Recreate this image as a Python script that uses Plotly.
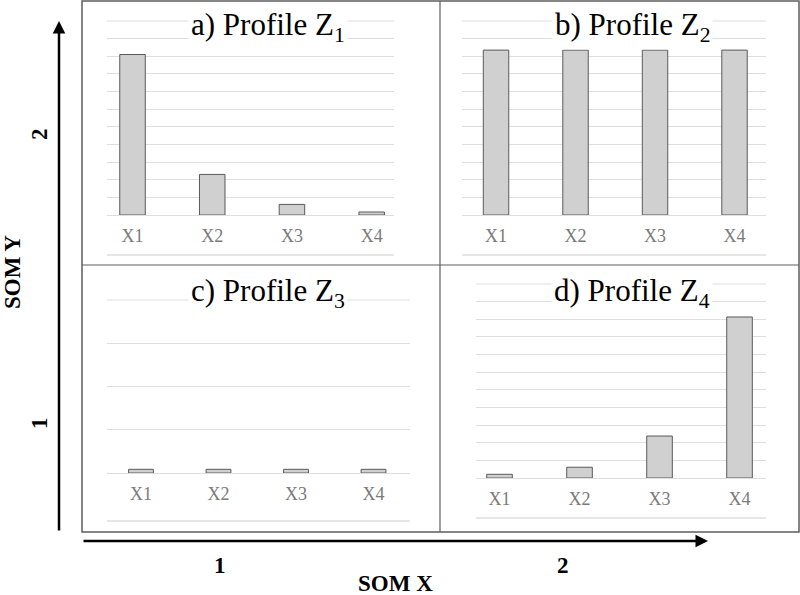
import plotly.graph_objects as go

W, H = 800, 595

categories = ["X1", "X2", "X3", "X4"]
panel_titles = ["a) Profile Z<sub>1</sub>", "b) Profile Z<sub>2</sub>",
                "c) Profile Z<sub>3</sub>", "d) Profile Z<sub>4</sub>"]
values_z1 = [9.1, 2.3, 0.6, 0.17]
values_z2 = [9.35, 9.35, 9.35, 9.35]
values_z3 = [0.085, 0.085, 0.085, 0.085]
values_z4 = [0.21, 0.61, 2.38, 9.13]
som_ticks = ["1", "2"]

SERIF = "Liberation Serif"

def px_x(p):
    return p / W

def px_y(p):
    return 1 - p / H

# layout of each panel: (x-domain px, x range, y baseline px, y top px, y max, title centre px)
panels = [
    dict(vals=values_z1, xd=(107, 394), xr=(-0.32, 3.28), yb=215, yt=21, ymax=11, tc=(268, 27), bl=255),
    dict(vals=values_z2, xd=(462, 766), xr=(-0.428, 3.396), yb=215, yt=21, ymax=11, tc=(632, 27), bl=255),
    dict(vals=values_z3, xd=(107, 410), xr=(-0.439, 3.471), yb=473, yt=300, ymax=4, tc=(268, 293), bl=521),
    dict(vals=values_z4, xd=(476, 766), xr=(-0.294, 3.331), yb=478, yt=284, ymax=11, tc=(632, 293), bl=518),
]

fig = go.Figure()
layout = dict(
    width=W, height=H,
    margin=dict(l=0, r=0, t=0, b=0),
    paper_bgcolor="white", plot_bgcolor="rgba(0,0,0,0)",
    showlegend=False,
    font=dict(family=SERIF),
)
annotations = []
shapes = []

for i, p in enumerate(panels):
    n = "" if i == 0 else str(i + 1)
    fig.add_trace(go.Bar(
        x=list(range(len(categories))), y=p["vals"],
        width=0.32,
        marker=dict(color="#d0d0d0", line=dict(color="#5a5a5a", width=1)),
        xaxis="x" + n, yaxis="y" + n, hoverinfo="skip",
    ))
    layout["xaxis" + n] = dict(
        domain=[px_x(p["xd"][0]), px_x(p["xd"][1])],
        range=list(p["xr"]), anchor="y" + n,
        tickvals=list(range(len(categories))), ticktext=categories,
        tickfont=dict(family=SERIF, size=18, color="#7a7a7a"),
        showgrid=False, zeroline=False, showline=False, ticks="",
        ticklabelstandoff=8, fixedrange=True,
    )
    layout["yaxis" + n] = dict(
        domain=[px_y(p["yb"]), px_y(p["yt"])],
        range=[0, p["ymax"]], anchor="x" + n,
        dtick=1, showgrid=True, gridcolor="#dedede", gridwidth=1,
        zeroline=True, zerolinecolor="#dedede", zerolinewidth=1,
        showticklabels=False, ticks="", showline=False, fixedrange=True,
    )
    shapes.append(dict(type="line", xref="x%s domain" % n, yref="paper",
                       x0=0, x1=1, y0=px_y(p["yt"]), y1=px_y(p["yt"]),
                       line=dict(color="#dedede", width=1), layer="below"))
    shapes.append(dict(type="line", xref="x%s domain" % n, yref="paper",
                       x0=0, x1=1, y0=px_y(p["bl"]), y1=px_y(p["bl"]),
                       line=dict(color="#dedede", width=1.5), layer="below"))
    annotations.append(dict(
        text=panel_titles[i], xref="paper", yref="paper",
        x=px_x(p["tc"][0]), y=px_y(p["tc"][1]),
        xanchor="center", yanchor="middle", showarrow=False,
        font=dict(family=SERIF, size=31, color="black"),
        bgcolor="white", borderpad=2,
    ))

frame_col = "#5e5e5e"
shapes.append(dict(type="rect", xref="paper", yref="paper",
                   x0=px_x(82), x1=px_x(799), y0=px_y(532), y1=px_y(1),
                   line=dict(color=frame_col, width=1.5)))
shapes.append(dict(type="line", xref="paper", yref="paper",
                   x0=px_x(440), x1=px_x(440), y0=px_y(532), y1=px_y(1),
                   line=dict(color=frame_col, width=1.2)))
shapes.append(dict(type="line", xref="paper", yref="paper",
                   x0=px_x(82), x1=px_x(799), y0=px_y(265), y1=px_y(265),
                   line=dict(color=frame_col, width=1.2)))

annotations.append(dict(text="", xref="paper", yref="paper", x=px_x(59), y=px_y(21),
                        ax=0, ay=511, showarrow=True, arrowhead=2, arrowsize=1,
                        arrowwidth=2.5, arrowcolor="black", standoff=0))
annotations.append(dict(text="", xref="paper", yref="paper", x=px_x(708), y=px_y(541),
                        ax=-626, ay=0, showarrow=True, arrowhead=2, arrowsize=1,
                        arrowwidth=2.5, arrowcolor="black", standoff=0))

bold = dict(family=SERIF, size=23, color="black")
for t, xp in zip(som_ticks, [220, 563]):
    annotations.append(dict(text="<b>%s</b>" % t, xref="paper", yref="paper",
                            x=px_x(xp), y=px_y(565), showarrow=False,
                            xanchor="center", yanchor="middle", font=bold))
annotations.append(dict(text="<b>SOM X</b>", xref="paper", yref="paper",
                        x=px_x(395), y=px_y(583), showarrow=False,
                        xanchor="center", yanchor="middle", font=bold))
for t, yp in zip(som_ticks, [423, 134]):
    annotations.append(dict(text="<b>%s</b>" % t, xref="paper", yref="paper",
                            x=px_x(39), y=px_y(yp), showarrow=False, textangle=-90,
                            xanchor="center", yanchor="middle", font=bold))
annotations.append(dict(text="<b>SOM Y</b>", xref="paper", yref="paper",
                        x=px_x(13), y=px_y(272), showarrow=False, textangle=-90,
                        xanchor="center", yanchor="middle", font=bold))

layout["annotations"] = annotations
layout["shapes"] = shapes
fig.update_layout(**layout)

fig.write_html("out.html", config={"displayModeBar": False},
               post_script="document.body.style.margin='0';document.body.style.overflow='hidden';")
